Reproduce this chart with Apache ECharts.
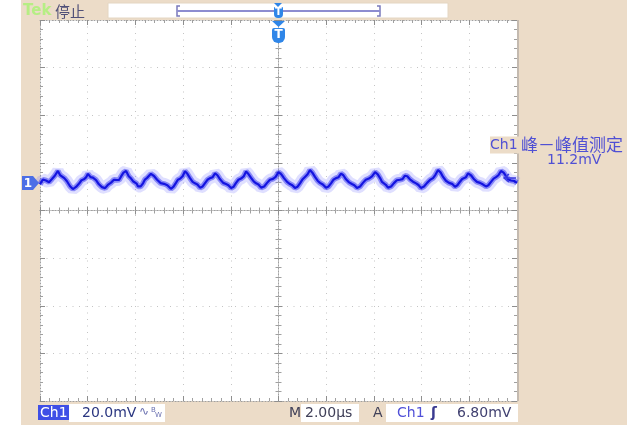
<!DOCTYPE html>
<html><head><meta charset="utf-8">
<script src="https://cdn.jsdelivr.net/npm/echarts@6/dist/echarts.min.js"></script>
<style>html,body{margin:0;padding:0;background:#fff;}#c{width:635px;height:425px;}</style>
</head><body><div id="c"></div>
<script>
const timeUs = [-10.00,-9.88,-9.75,-9.62,-9.50,-9.38,-9.25,-9.16,-9.08,-8.98,-8.87,-8.74,-8.62,-8.49,-8.36,-8.26,-8.16,-8.07,-7.99,-7.88,-7.78,-7.65,-7.53,-7.40,-7.27,-7.14,-7.02,-6.90,-6.77,-6.68,-6.60,-6.50,-6.39,-6.28,-6.18,-6.10,-6.02,-5.95,-5.89,-5.78,-5.68,-5.60,-5.51,-5.43,-5.35,-5.22,-5.09,-4.94,-4.80,-4.66,-4.51,-4.40,-4.30,-4.22,-4.13,-4.02,-3.92,-3.82,-3.71,-3.60,-3.50,-3.40,-3.29,-3.18,-3.08,-2.98,-2.87,-2.76,-2.66,-2.56,-2.45,-2.32,-2.20,-2.10,-1.99,-1.88,-1.78,-1.68,-1.57,-1.46,-1.36,-1.26,-1.15,-1.04,-0.94,-0.84,-0.73,-0.60,-0.48,-0.36,-0.23,-0.12,0.00,0.12,0.23,0.36,0.48,0.58,0.69,0.80,0.90,1.00,1.11,1.22,1.32,1.42,1.53,1.64,1.74,1.86,1.99,2.10,2.20,2.30,2.41,2.52,2.62,2.72,2.83,2.96,3.08,3.18,3.29,3.42,3.54,3.66,3.79,3.92,4.05,4.16,4.26,4.34,4.42,4.50,4.59,4.72,4.84,4.96,5.09,5.20,5.30,5.40,5.51,5.64,5.77,5.87,5.97,6.10,6.23,6.36,6.48,6.58,6.69,6.80,6.90,7.02,7.15,7.28,7.40,7.50,7.61,7.70,7.78,7.86,7.95,8.08,8.20,8.32,8.45,8.58,8.70,8.80,8.91,9.02,9.12,9.22,9.33,9.44,9.54,9.64,9.75,9.88,10.00];
const ch1mV = [11.0,13.0,12.6,11.9,13.2,14.6,16.6,14.9,14.2,13.6,12.3,10.2,9.0,9.9,11.3,12.7,13.1,13.9,15.4,14.0,13.8,12.8,11.0,9.8,9.4,10.9,11.7,12.9,12.8,12.9,14.3,15.9,16.6,14.4,13.4,12.3,11.8,11.3,10.1,10.1,11.4,13.0,13.7,13.9,15.4,14.5,12.9,11.5,11.2,10.6,9.1,10.0,11.6,12.9,13.3,14.4,16.5,15.4,13.6,12.0,11.4,10.9,9.6,10.1,11.5,12.9,13.6,14.0,15.6,14.8,13.1,11.6,11.1,10.6,9.4,10.0,11.6,12.9,13.4,14.3,16.4,15.3,13.7,12.2,11.4,10.9,9.6,10.1,11.6,12.9,13.3,14.1,16.1,15.2,13.6,12.0,11.1,10.6,9.5,10.0,11.4,13.0,14.1,15.2,17.0,15.9,14.1,12.5,11.6,10.9,9.6,10.1,11.4,12.9,13.6,14.0,15.5,14.8,13.1,11.8,11.1,10.6,9.5,10.1,11.6,12.9,13.4,14.3,16.1,15.2,13.6,12.0,11.4,10.8,9.6,10.1,11.5,12.7,12.9,13.2,14.6,14.4,13.1,12.1,11.4,10.7,9.5,10.1,11.6,12.9,13.6,15.0,17.0,15.9,14.1,12.5,11.6,11.2,10.0,10.6,12.1,13.2,13.4,14.0,15.6,14.7,13.1,12.0,11.6,10.9,10.1,10.6,12.0,13.4,14.0,14.8,16.6,15.9,14.4,13.0,12.6,12.4,11.6];
const voltRange = [-80, 80];     // 8 div x 20.0 mV
const voltStep = 20;
const timeRange = [-10, 10];     // 10 div x 2.00 us
const timeStep = 2;
const channelName = 'Ch1';
const voltScale = '20.0mV';
const timeScale = '2.00µs';
const trigLevel = '6.80mV';
const runState = '停止';
const measName = '峰－峰值测定';
const measValue = '11.2mV';

const trace = timeUs.map((t, i) => [t, ch1mV[i]]);

const BEIGE = '#ecdcc8';
const GRIDC = '#c4c4c4';
const mono = 'DejaVu Sans';
const cjk = 'Noto Sans CJK SC';

function axisCommon(onZero, showSplit) {
  return {
    axisLine: { show: true, onZero: onZero, lineStyle: { color: '#a0a0a0', width: 1, type: [1, 2] } },
    axisTick: { show: true, inside: true, length: onZero ? 4 : 5, lineStyle: { color: '#8e8e8e' } },
    minorTick: { show: true, splitNumber: 5, length: 3, lineStyle: { color: '#a0a0a0' } },
    axisLabel: { show: false },
    splitLine: { show: showSplit, lineStyle: { color: GRIDC, width: 1, type: [1, 5.5] } },
    minorSplitLine: { show: false }
  };
}
function xAx(pos, onZero, showSplit) {
  return Object.assign({ type: 'value', min: timeRange[0], max: timeRange[1], interval: timeStep, position: pos }, axisCommon(onZero, showSplit));
}
function yAx(pos, onZero, showSplit) {
  return Object.assign({ type: 'value', min: voltRange[0], max: voltRange[1], interval: voltStep, position: pos }, axisCommon(onZero, showSplit));
}

const chart = echarts.init(document.getElementById('c'), null, { renderer: 'canvas' });
const txt = (x, y, text, color, size, extra) => ({
  type: 'text', x: x, y: y, z: 20,
  style: Object.assign({ text: text, fill: color, font: (size || 14) + 'px "' + mono + '"', verticalAlign: 'middle' }, extra || {})
});

chart.setOption({
  animation: false,
  grid: { left: 40, top: 20, right: 118, bottom: 24, containLabel: false },
  xAxis: [xAx('bottom', false, true), xAx('top', false, false), xAx('bottom', true, false), xAx('top', true, false)],
  yAxis: [yAx('left', false, true), yAx('right', false, false), yAx('left', true, false), yAx('right', true, false)],
  series: [
    { type: 'line', data: trace, showSymbol: false, smooth: false, z: 3,
      lineStyle: { color: 'rgba(110,110,255,0.22)', width: 12 } },
    { type: 'line', data: trace, showSymbol: false, smooth: false, z: 4,
      lineStyle: { color: 'rgba(50,50,240,0.5)', width: 5.5 } },
    { type: 'line', data: trace, showSymbol: false, smooth: false, z: 5,
      lineStyle: { color: '#1414e0', width: 2.2 } }
  ],
  graphic: { elements: [
    { type: 'rect', z: -20, shape: { x: 21, y: 0, width: 606, height: 425 }, style: { fill: BEIGE } },
    { type: 'rect', z: -19, shape: { x: 40, y: 20, width: 477, height: 381 }, style: { fill: '#ffffff' } },
    { type: 'line', z: 1, shape: { x1: 518, y1: 20, x2: 518, y2: 401 }, style: { stroke: '#c4bab0', lineWidth: 2 } },
    // top bar
    txt(23, 11, 'Tek', '#b6ee84', 15, { font: 'bold 15px "' + mono + '"' }),
    txt(55, 11, runState, '#505078', 15, { font: '15px "' + cjk + '"' }),
    { type: 'rect', z: 10, shape: { x: 108, y: 3, width: 340, height: 15 }, style: { fill: '#ffffff', stroke: '#e4d6c2' } },
    { type: 'polyline', z: 11, shape: { points: [[180, 6], [177, 6], [177, 16], [180, 16]] }, style: { stroke: '#7a7abc', lineWidth: 1.5, fill: null } },
    { type: 'polyline', z: 11, shape: { points: [[377, 6], [380, 6], [380, 16], [377, 16]] }, style: { stroke: '#7a7abc', lineWidth: 1.5, fill: null } },
    { type: 'line', z: 11, shape: { x1: 177, y1: 11, x2: 380, y2: 11 }, style: { stroke: '#8c8cd0', lineWidth: 2 } },
    { type: 'polygon', z: 12, shape: { points: [[274, 3], [282, 3], [278, 7]] }, style: { fill: '#2f86e8' } },
    { type: 'rect', z: 12, shape: { x: 274, y: 7, width: 9, height: 11, r: [1, 1, 4, 4] }, style: { fill: '#2f86e8' } },
    txt(278.5, 12.5, 'T', '#ffffff', 10, { font: 'bold 10px "' + mono + '"', align: 'center' }),
    // trigger position marker on plot
    { type: 'polygon', z: 12, shape: { points: [[272, 21], [285, 21], [278.5, 27]] }, style: { fill: '#2f86e8' } },
    { type: 'rect', z: 12, shape: { x: 272, y: 28, width: 13, height: 15, r: [2, 2, 6, 6] }, style: { fill: '#2f86e8' } },
    txt(278.5, 35, 'T', '#ffffff', 12, { font: 'bold 12px "' + mono + '"', align: 'center' }),
    // channel ground marker
    { type: 'polygon', z: 12, shape: { points: [[22, 176], [33, 176], [39, 183], [33, 190], [22, 190]] }, style: { fill: '#4c6ee6' } },
    txt(28, 183.5, '1', '#ffffff', 12, { font: 'bold 12px "' + mono + '"', align: 'center' }),
    // trigger level arrow at right edge
    { type: 'polyline', z: 12, shape: { points: [[509, 174], [504, 178], [509, 182]] }, style: { stroke: '#3a3ae0', lineWidth: 1.5, fill: null } },
    { type: 'line', z: 12, shape: { x1: 504, y1: 178, x2: 516, y2: 178 }, style: { stroke: '#3a3ae0', lineWidth: 1.5 } },
    // measurement readout
    { type: 'text', x: 490, y: 145, z: 20, style: {
        text: '{a|' + channelName + '} {b|' + measName + '}', verticalAlign: 'middle', backgroundColor: BEIGE,
        rich: { a: { fill: '#5050d4', font: '14px "' + mono + '"' }, b: { fill: '#5050d4', font: '17px "' + cjk + '"' } } } },
    txt(547, 160, measValue, '#5050d4', 14),
    // bottom status row
    { type: 'rect', z: 10, shape: { x: 69, y: 404, width: 96, height: 18 }, style: { fill: '#ffffff' } },
    { type: 'rect', z: 10, shape: { x: 301, y: 404, width: 58, height: 18 }, style: { fill: '#ffffff' } },
    { type: 'rect', z: 10, shape: { x: 386, y: 404, width: 132, height: 18 }, style: { fill: '#ffffff' } },
    { type: 'rect', z: 11, shape: { x: 38, y: 405, width: 31, height: 15 }, style: { fill: '#3f4fe6' } },
    txt(40, 413, channelName, '#ffffff', 14),
    txt(82, 413, voltScale, '#2a3680', 14),
    txt(139, 412, '∿', '#6a70b0', 12),
    txt(151, 410, 'B', '#6a70b0', 7),
    txt(155, 415, 'W', '#6a70b0', 7),
    txt(289, 413, 'M', '#404058', 14),
    txt(305, 413, timeScale, '#404058', 14),
    txt(373, 413, 'A', '#404058', 14),
    txt(397, 413, channelName, '#5050d8', 14),
    txt(431, 413, 'ʃ', '#3a3a90', 14, { font: 'bold 14px "' + mono + '"' }),
    txt(457, 413, trigLevel, '#404070', 14)
  ] }
});
</script></body></html>
